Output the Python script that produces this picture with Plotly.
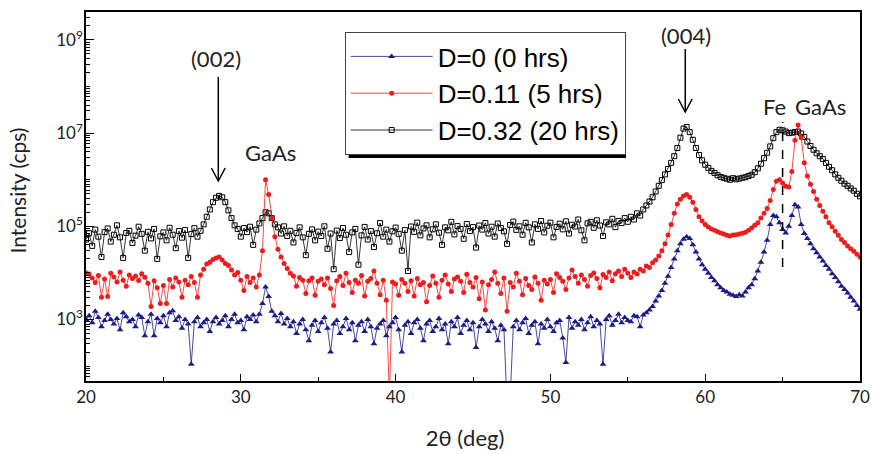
import plotly.graph_objects as go

# ---- scan description (2-theta start / step of the diffractometer scan) ----
THETA_START = 20.0
THETA_STEP = 0.2

# ---- intensities (cps), one row per degree: 20.0, 20.2, 20.4, 20.6, 20.8 ... ----
intensity_d0 = [
    1000, 1200, 850, 1500, 1100,        # 20
    700, 950, 1300, 1000, 800,          # 21
    1050, 600, 1400, 1150, 900,         # 22
    1000, 700, 1250, 1100, 450,         # 23
    900, 1300, 450, 1050, 850,          # 24
    1200, 700, 1400, 1550, 950,         # 25
    1150, 650, 1000, 800, 110,          # 26
    900, 1100, 700, 850, 1000,          # 27
    550, 900, 1100, 800, 950,           # 28
    1200, 700, 1000, 1300, 850,         # 29
    950, 600, 1150, 1000, 1250,         # 30
    900, 1300, 2200, 5000, 3100,        # 31
    1500, 1200, 900, 1350, 800,         # 32
    1050, 700, 900, 500, 800,           # 33
    1000, 600, 350, 750, 950,           # 34
    550, 850, 1100, 650, 200,           # 35
    800, 950, 500, 700, 1050,           # 36
    600, 850, 350, 750, 900,            # 37
    550, 1000, 700, 300, 650,           # 38
    800, 950, 450, 700, 850,            # 39
    1100, 600, 200, 750, 900,           # 40
    500, 850, 1000, 650, 350,           # 41
    800, 950, 550, 700, 1050,           # 42
    600, 800, 300, 900, 700,            # 43
    1100, 500, 750, 950, 600,           # 44
    850, 250, 700, 1000, 800,           # 45
    550, 900, 650, 350, 750,            # 46
    600, 15, 20, 700, 950,              # 47
    600, 850, 1050, 500, 750,           # 48
    900, 300, 800, 650, 1000,           # 49
    700, 550, 850, 950, 400,            # 50
    120, 1100, 650, 900, 750,           # 51
    1000, 600, 850, 1150, 700,          # 52
    950, 800, 110, 1000, 1200,          # 53
    750, 950, 1300, 850, 1100,          # 54
    950, 900, 1200, 1150, 700,          # 55
    1250, 1400, 1600, 1900, 2500,       # 56
    3200, 4200, 6000, 8500, 13000,      # 57
    20000, 30000, 42000, 53000, 60000,  # 58
    55000, 40000, 28000, 20000, 15000,  # 59
    12000, 9800, 8000, 6800, 5600,      # 60
    4800, 4200, 3900, 3500, 3300,       # 61
    3100, 3400, 3200, 3900, 4800,       # 62
    5600, 7500, 11000, 17000, 28000,    # 63
    50000, 110000, 170000, 160000, 120000,  # 64
    85000, 72000, 100000, 170000, 290000,   # 65
    260000, 110000, 70000, 55000, 42000,    # 66
    33000, 27000, 22000, 18000, 14500,  # 67
    12000, 9600, 8000, 6500, 5200,      # 68
    4400, 3700, 3000, 2500, 2000,       # 69
    1650,                               # 70
]

intensity_d011 = [
    10000, 9500, 7800, 6200, 8800,      # 20
    3000, 7400, 3100, 9800, 8200,       # 21
    6400, 10500, 7000, 5200, 9000,      # 22
    7600, 8600, 6900, 9600, 8100,       # 23
    6000, 1900, 6800, 4800, 2200,       # 24
    5400, 2200, 7200, 5000, 7800,       # 25
    6400, 3000, 7000, 5600, 8400,       # 26
    6200, 3000, 9000, 12000, 15500,     # 27
    17000, 19500, 21000, 22000, 19000,  # 28
    16000, 14500, 11500, 9000, 10200,   # 29
    7000, 4200, 8400, 6200, 7800,       # 30
    5000, 9000, 30000, 1000000, 480000, # 31
    150000, 60000, 32000, 22000, 16000, # 32
    12500, 9800, 8600, 5200, 8000,      # 33
    7000, 3600, 6800, 7800, 3300,       # 34
    6600, 7400, 5600, 7800, 4600,       # 35
    2000, 6800, 8400, 5400, 9800,       # 36
    6200, 3800, 7000, 6000, 8800,       # 37
    3200, 6600, 7600, 11000, 6000,      # 38
    3400, 7000, 2600, 20, 6400,         # 39
    5800, 3300, 7200, 6000, 4000,       # 40
    6800, 3200, 7600, 5600, 6200,       # 41
    2400, 5400, 8600, 6000, 3000,       # 42
    7000, 9000, 5800, 4000, 7400,       # 43
    8200, 6600, 3800, 9400, 6200,       # 44
    5000, 8000, 2800, 6400, 1600,       # 45
    5600, 7200, 10500, 6000, 3600,      # 46
    7800, 1500, 6200, 5000, 9800,       # 47
    6600, 3400, 7600, 5400, 4400,       # 48
    8200, 6000, 2600, 7000, 5800,       # 49
    7200, 3800, 9600, 8000, 6600,       # 50
    4400, 7800, 11500, 8400, 6000,      # 51
    9000, 7200, 5200, 8800, 10000,      # 52
    7600, 4800, 9200, 8000, 10500,      # 53
    6800, 9600, 11000, 8400, 12000,     # 54
    9800, 8000, 10500, 9500, 12000,     # 55
    11000, 14000, 13000, 16500, 19000,  # 56
    23000, 30000, 42000, 65000, 110000, # 57
    190000, 300000, 380000, 450000, 480000,  # 58
    420000, 330000, 230000, 160000, 130000,  # 59
    110000, 97000, 88000, 82000, 76000, # 60
    72000, 68000, 64000, 62000, 65000,  # 61
    66000, 68000, 71000, 75000, 82000,  # 62
    92000, 105000, 120000, 150000, 190000,   # 63
    240000, 360000, 620000, 930000, 1000000, # 64
    850000, 720000, 700000, 1500000, 7000000,  # 65
    15000000, 8000000, 2300000, 1200000, 800000,  # 66
    560000, 380000, 280000, 210000, 160000,  # 67
    120000, 98000, 78000, 64000, 52000, # 68
    45000, 38000, 33000, 29000, 25000,  # 69
    22000,                              # 70
]

intensity_d032 = [
    52000, 71000, 38000, 85000, 60000,  # 20
    22000, 75000, 90000, 47000, 66000,  # 21
    105000, 58000, 21000, 72000, 80000, # 22
    44000, 63000, 98000, 69000, 30000,  # 23
    76000, 55000, 88000, 20000, 61000,  # 24
    74000, 50000, 93000, 66000, 34000,  # 25
    79000, 57000, 83000, 21000, 68000,  # 26
    91000, 60000, 80000, 110000, 160000,     # 27
    230000, 330000, 410000, 450000, 420000,  # 28
    330000, 220000, 150000, 105000, 88000,   # 29
    60000, 92000, 75000, 98000, 40000,  # 30
    85000, 115000, 150000, 200000, 190000,   # 31
    150000, 110000, 95000, 70000, 100000,    # 32
    62000, 80000, 45000, 72000, 95000,  # 33
    58000, 24000, 69000, 86000, 50000,  # 34
    77000, 62000, 100000, 33000, 70000, # 35
    12000, 81000, 56000, 92000, 66000,  # 36
    28000, 74000, 88000, 15000, 64000,  # 37
    97000, 52000, 79000, 36000, 71000,  # 38
    118000, 60000, 85000, 47000, 78000, # 39
    94000, 69000, 30000, 83000, 11000,  # 40
    99000, 76000, 120000, 64000, 90000, # 41
    105000, 58000, 86000, 110000, 73000,     # 42
    40000, 95000, 82000, 125000, 67000,      # 43
    101000, 88000, 54000, 112000, 79000,     # 44
    96000, 35000, 104000, 85000, 118000,     # 45
    70000, 98000, 60000, 115000, 92000,      # 46
    78000, 42000, 107000, 126000, 84000,     # 47
    100000, 66000, 119000, 95000, 45000,     # 48
    110000, 88000, 130000, 74000, 103000,    # 49
    120000, 58000, 97000, 114000, 86000,     # 50
    128000, 70000, 108000, 99000, 140000,    # 51
    82000, 50000, 116000, 125000, 93000,     # 52
    135000, 104000, 62000, 122000, 110000,   # 53
    145000, 96000, 130000, 118000, 150000,   # 54
    125000, 160000, 140000, 190000, 170000,  # 55
    230000, 280000, 340000, 420000, 560000,  # 56
    740000, 980000, 1300000, 1700000, 2300000,    # 57
    3200000, 4800000, 8000000, 12500000, 13500000,  # 58
    10500000, 7200000, 4800000, 3400000, 2600000,  # 59
    2100000, 1800000, 1550000, 1400000, 1250000,   # 60
    1150000, 1100000, 1050000, 1000000, 1080000,   # 61
    1020000, 1060000, 1100000, 1130000, 1200000,   # 62
    1280000, 1450000, 1750000, 2200000, 2900000,   # 63
    3800000, 5200000, 7800000, 10500000, 11800000, # 64
    11500000, 10800000, 10000000, 10200000, 10600000,  # 65
    10800000, 9800000, 8300000, 6600000, 5300000,  # 66
    4400000, 3700000, 3200000, 2800000, 2300000,   # 67
    1900000, 1600000, 1300000, 1100000, 950000,    # 68
    820000, 740000, 650000, 580000, 500000,        # 69
    440000,                                        # 70
]

series_names = ["D=0 (0 hrs)", "D=0.11 (5 hrs)", "D=0.32 (20 hrs)"]
x_tick_vals = [20, 30, 40, 50, 60, 70]
x_minor_vals = [25, 35, 45, 55, 65]
y_tick_vals = [1e3, 1e5, 1e7, 1e9]
y_tick_text = ["10<sup>3</sup>", "10<sup>5</sup>", "10<sup>7</sup>", "10<sup>9</sup>"]
y_minor_vals = [k * 10 ** n for n in range(1, 10) for k in range(1, 10)]


def angles(values):
    return [round(THETA_START + THETA_STEP * i, 1) for i in range(len(values))]


# plot area in pixels (for placing annotations)
W, H = 880, 454
L, R, T, B = 86, 10, 12, 73
PW, PH = W - L - R, H - T - B


def px_x(px):
    return 20 + (px - L) / PW * 50


def px_xp(px):
    return (px - L) / PW


def px_y(py):
    return 1 - (py - T) / PH


BLUE = "#1c1c84"
RED = "#ee1c1c"
BLACK = "#000000"

fig = go.Figure()
fig.add_trace(go.Scatter(
    x=angles(intensity_d032), y=intensity_d032, name=series_names[2], legendrank=3,
    mode="lines+markers", line=dict(color=BLACK, width=0.8),
    marker=dict(symbol="square-open", size=5, color=BLACK, line=dict(width=1))))
fig.add_trace(go.Scatter(
    x=angles(intensity_d011), y=intensity_d011, name=series_names[1], legendrank=2,
    mode="lines+markers", line=dict(color=RED, width=0.8),
    marker=dict(symbol="circle", size=5, color=RED)))
fig.add_trace(go.Scatter(
    x=angles(intensity_d0), y=intensity_d0, name=series_names[0], legendrank=1,
    mode="lines+markers", line=dict(color=BLUE, width=0.8),
    marker=dict(symbol="triangle-up", size=6, color=BLUE)))

AX_FONT = "Lato, 'Open Sans', sans-serif"

fig.update_xaxes(
    range=[20, 70], tickvals=x_tick_vals, ticks="inside", ticklen=7, tickwidth=1.2,
    tickcolor="black", showline=True, linecolor="black", linewidth=1.5, mirror=True,
    showgrid=False, zeroline=False, tickfont=dict(family=AX_FONT, size=17, color="#222"),
    minor=dict(tickvals=x_minor_vals, ticks="inside", ticklen=4, tickcolor="black", showgrid=False),
    title=dict(text="2θ (deg)", font=dict(family=AX_FONT, size=22, color="#222")),
)
fig.update_yaxes(
    type="log", range=[1.68, 9.6], tickvals=y_tick_vals, ticktext=y_tick_text,
    ticks="inside", ticklen=8, tickwidth=1.2, tickcolor="black", ticklabelstandoff=-2,
    showline=True, linecolor="black", linewidth=1.5, mirror=True,
    showgrid=False, zeroline=False, tickfont=dict(family=AX_FONT, size=17, color="#222"),
    minor=dict(tickvals=y_minor_vals, ticks="inside", ticklen=4, tickcolor="black", showgrid=False),
    title=dict(text="Intensity (cps)", font=dict(family=AX_FONT, size=21, color="#222")),
)

# legend box shadow
shapes = [
    dict(type="rect", xref="paper", yref="paper",
         x0=px_xp(352), x1=px_xp(633), y0=px_y(158), y1=px_y(37),
         fillcolor="black", line=dict(width=0), layer="above"),
    # dashed Fe marker line
    dict(type="line", xref="x", yref="paper", x0=65.0, x1=65.0, y0=px_y(267), y1=px_y(122),
         line=dict(color="black", width=1.5, dash="dash")),
]
# arrows (shaft + open V head)
for ax_px, tail, tip in [(220, 77, 181), (693, 49, 112)]:
    xa = px_x(ax_px)
    dx = 7 / PW * 50
    shapes.append(dict(type="line", xref="x", yref="paper", x0=xa, x1=xa,
                       y0=px_y(tip), y1=px_y(tail), line=dict(color="black", width=1.5)))
    shapes.append(dict(type="path", xref="x", yref="paper",
                       path=f"M {xa - dx},{px_y(tip - 13)} L {xa},{px_y(tip)} L {xa + dx},{px_y(tip - 13)}",
                       line=dict(color="black", width=1.5)))
fig.update_layout(shapes=shapes)

ANN_FONT = dict(family=AX_FONT, size=22, color="#222")
for text, px, py in [("(002)", 218, 58), ("GaAs", 273, 152), ("(004)", 694, 35),
                     ("Fe", 783, 106), ("GaAs", 830, 106)]:
    fig.add_annotation(x=px_x(px), y=px_y(py), xref="x", yref="paper", text=text,
                       showarrow=False, font=ANN_FONT, xanchor="center", yanchor="middle")

fig.update_layout(
    width=W, height=H, margin=dict(l=L, r=R, t=T, b=B),
    paper_bgcolor="white", plot_bgcolor="white",
    legend=dict(x=px_xp(348), y=px_y(32), xanchor="left", yanchor="top",
                bgcolor="white", bordercolor="#444", borderwidth=1,
                font=dict(family="'Liberation Sans', Arial, sans-serif", size=26, color="black"),
                itemwidth=82, tracegroupgap=0),
    showlegend=True,
)

# page: no body margin; nudge the axis titles a few px (x title down, y title left)
fig.write_html(
    "out.html", config={"displayModeBar": False},
    post_script=(
        "document.body.style.margin='0px';document.body.style.overflow='hidden';"
        "var gd=document.getElementsByClassName('plotly-graph-div')[0];"
        "var xg=gd.querySelector('.g-xtitle');if(xg){xg.setAttribute('transform','translate(-8,9)');}"
        "var yg=gd.querySelector('.g-ytitle');if(yg){yg.setAttribute('transform','translate(-9,-6)');}"
    ),
)
